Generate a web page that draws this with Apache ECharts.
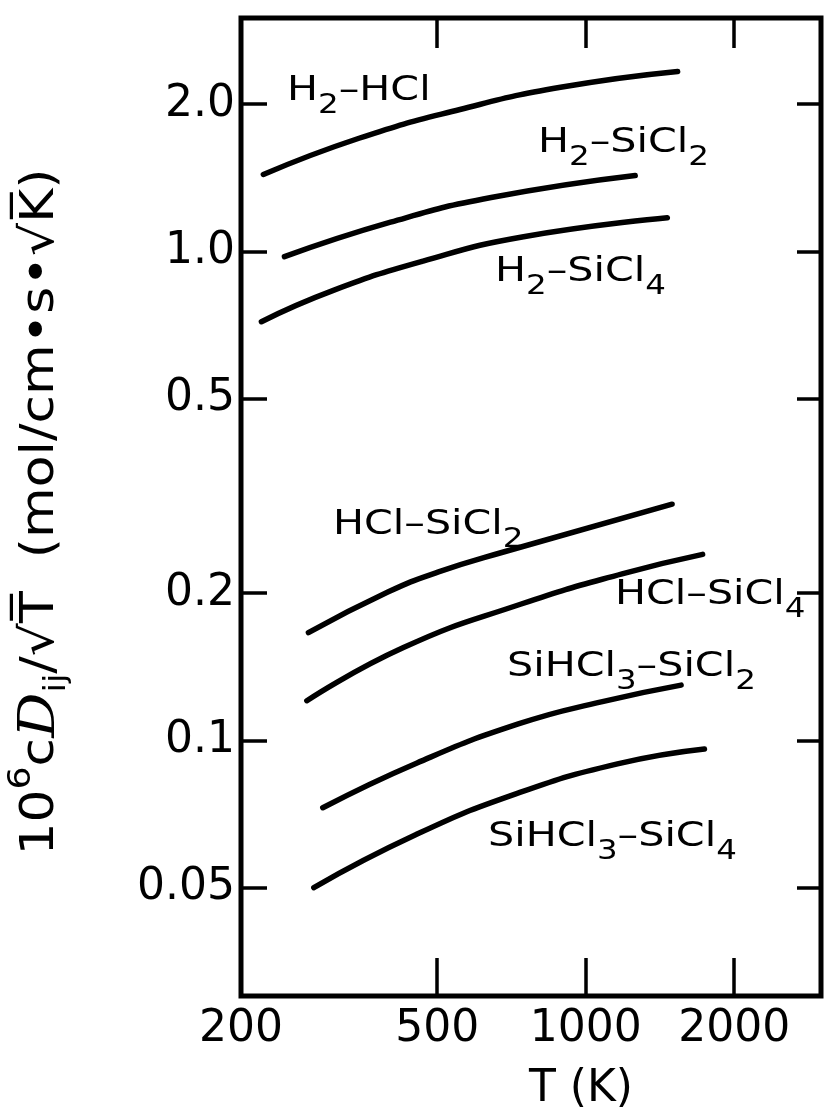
<!DOCTYPE html>
<html>
<head>
<meta charset="utf-8">
<title>Diffusion coefficients</title>
<script src="https://cdn.jsdelivr.net/npm/echarts@6/dist/echarts.min.js"></script>
<style>
    html, body { margin: 0; padding: 0; background: #fff; }
    #chart { width: 833px; height: 1120px; }
</style>
</head>
<body>
<div id="chart"></div>
<script>
// 读图得到的数据 (T in K, value = 10^6 c D_ij / sqrt(T))
const h2HclT = [222, 347, 556, 889, 1536];
const h2HclV = [1.436, 1.703, 1.95, 2.165, 2.333];

const h2SiCl2T = [245, 402, 643, 1260];
const h2SiCl2V = [0.975, 1.147, 1.288, 1.429];

const h2SiCl4T = [220, 306, 468, 748, 1464];
const h2SiCl4V = [0.718, 0.83, 0.955, 1.071, 1.171];

const hclSiCl2T = [274, 397, 503, 684, 1497];
const hclSiCl2V = [0.166, 0.201, 0.221, 0.243, 0.304];

const hclSiCl4T = [272, 427, 740, 1185, 1726];
const hclSiCl4V = [0.1205, 0.1548, 0.19, 0.219, 0.240];

const sihcl3SiCl2T = [293, 455, 730, 1081, 1561];
const sihcl3SiCl2V = [0.0728, 0.0899, 0.108, 0.120, 0.1297];

const sihcl3SiCl4T = [281, 452, 724, 1160, 1741];
const sihcl3SiCl4V = [0.0500, 0.0641, 0.0778, 0.0895, 0.096];

// 坐标轴刻度
const xTickValues = [200, 500, 1000, 2000];
const xTickLabels = ['200', '500', '1000', '2000'];
const yTickValues = [0.05, 0.1, 0.2, 0.5, 1.0, 2.0];
const yTickLabels = ['0.05', '0.1', '0.2', '0.5', '1.0', '2.0'];
const xRange = [200, 3000];
const yRange = [0.03, 3.0];

const FONT = '"DejaVu Sans", sans-serif';

document.addEventListener('DOMContentLoaded', function() {
    initChart();
});

function toLog(ts, vs) {
    return ts.map((t, i) => [Math.log10(t), Math.log10(vs[i])]);
}

function nearestLabel(v, values, labels) {
    let best = 0;
    for (let i = 0; i < values.length; i++) {
        if (Math.abs(Math.log10(values[i]) - v) < Math.abs(Math.log10(values[best]) - v)) best = i;
    }
    return labels[best];
}

function curve(name, ts, vs) {
    return {
        name: name,
        type: 'line',
        smooth: 0.5,
        showSymbol: false,
        silent: true,
        lineStyle: { color: '#000', width: 5.5, cap: 'round' },
        data: toLog(ts, vs)
    };
}

// 化学式标签 (下标用 rich text)
function formula(x, y, text) {
    return {
        type: 'text',
        x: x,
        y: y,
        scaleX: 1.25,
        style: {
            text: text,
            align: 'left',
            verticalAlign: 'top',
            fill: '#000',
            rich: {
                n: { fontFamily: FONT, fontSize: 33, lineHeight: 36, verticalAlign: 'top', fill: '#000' },
                s: { fontFamily: FONT, fontSize: 26, lineHeight: 28, padding: [18, 0, 0, 0], verticalAlign: 'top', fill: '#000' }
            }
        }
    };
}

function initChart() {
    const chartDom = document.getElementById('chart');
    const myChart = echarts.init(chartDom);

    const xTicksLog = xTickValues.map(v => Math.log10(v));
    const yTicksLog = yTickValues.map(v => Math.log10(v));
    const xInner = xTicksLog.slice(1);

    const xAxisBase = {
        type: 'value',
        min: Math.log10(xRange[0]),
        max: Math.log10(xRange[1]),
        splitLine: { show: false },
        axisLine: { show: false, onZero: false }
    };
    const yAxisBase = {
        type: 'value',
        min: Math.log10(yRange[0]),
        max: Math.log10(yRange[1]),
        splitLine: { show: false },
        axisLine: { show: false, onZero: false }
    };
    const tickStyle = { color: '#000', width: 3.5 };

    const option = {
        animation: false,
        backgroundColor: '#fff',
        grid: {
            left: 241,
            top: 18,
            width: 580,
            height: 978,
            show: true,
            borderColor: '#000',
            borderWidth: 5
        },
        xAxis: [
            Object.assign({}, xAxisBase, {
                position: 'bottom',
                name: 'T (K)',
                nameLocation: 'middle',
                nameGap: 72,
                nameTextStyle: { fontFamily: FONT, fontSize: 44, color: '#000', padding: [0, 0, 0, 100] },
                axisTick: { show: true, inside: true, length: 38, customValues: xInner, lineStyle: tickStyle },
                axisLabel: {
                    show: true,
                    customValues: xTicksLog,
                    margin: 12,
                    fontFamily: FONT,
                    fontSize: 44,
                    color: '#000',
                    formatter: v => nearestLabel(v, xTickValues, xTickLabels)
                }
            }),
            Object.assign({}, xAxisBase, {
                position: 'top',
                axisTick: { show: true, inside: true, length: 30, customValues: xInner, lineStyle: tickStyle },
                axisLabel: { show: false }
            })
        ],
        yAxis: [
            Object.assign({}, yAxisBase, {
                position: 'left',
                axisTick: { show: true, inside: true, length: 26, customValues: yTicksLog, lineStyle: tickStyle },
                axisLabel: {
                    show: true,
                    customValues: yTicksLog,
                    margin: 6,
                    fontFamily: FONT,
                    fontSize: 44,
                    color: '#000',
                    formatter: v => nearestLabel(v, yTickValues, yTickLabels)
                }
            }),
            Object.assign({}, yAxisBase, {
                position: 'right',
                axisTick: { show: true, inside: true, length: 24, customValues: yTicksLog, lineStyle: tickStyle },
                axisLabel: { show: false }
            })
        ],
        series: [
            curve('H2-HCl', h2HclT, h2HclV),
            curve('H2-SiCl2', h2SiCl2T, h2SiCl2V),
            curve('H2-SiCl4', h2SiCl4T, h2SiCl4V),
            curve('HCl-SiCl2', hclSiCl2T, hclSiCl2V),
            curve('HCl-SiCl4', hclSiCl4T, hclSiCl4V),
            curve('SiHCl3-SiCl2', sihcl3SiCl2T, sihcl3SiCl2V),
            curve('SiHCl3-SiCl4', sihcl3SiCl4T, sihcl3SiCl4V)
        ],
        graphic: [
            formula(287, 75, '{n|H}{s|2}{n|–HCl}'),
            formula(538, 127, '{n|H}{s|2}{n|–SiCl}{s|2}'),
            formula(495, 256, '{n|H}{s|2}{n|–SiCl}{s|4}'),
            formula(333, 509, '{n|HCl–SiCl}{s|2}'),
            formula(615, 579, '{n|HCl–SiCl}{s|4}'),
            formula(507, 651, '{n|SiHCl}{s|3}{n|–SiCl}{s|2}'),
            formula(488, 821, '{n|SiHCl}{s|3}{n|–SiCl}{s|4}'),
            // 纵轴标题 (竖排, 从下往上读)
            {
                type: 'text',
                x: 33,
                y: 512,
                rotation: Math.PI / 2,
                scaleX: 1.13,
                style: {
                    text: '{a|10}{p|6}{a|c}{d|D}{b|ij}{a|/√T\u0305  (mol/cm•s•√K\u0305)}',
                    align: 'center',
                    verticalAlign: 'middle',
                    fill: '#000',
                    rich: {
                        a: { fontFamily: FONT, fontSize: 46, lineHeight: 50, padding: [12, 0, 0, 0], verticalAlign: 'top', fill: '#000' },
                        p: { fontFamily: FONT, fontSize: 32, lineHeight: 34, verticalAlign: 'top', fill: '#000' },
                        d: { fontFamily: '"DejaVu Serif", serif', fontStyle: 'italic', fontSize: 50, lineHeight: 54, padding: [10, 0, 0, 0], verticalAlign: 'top', fill: '#000' },
                        b: { fontFamily: FONT, fontSize: 30, lineHeight: 32, padding: [36, 0, 0, 0], verticalAlign: 'top', fill: '#000' }
                    }
                }
            }
        ]
    };
    myChart.setOption(option);

    window.addEventListener('resize', function() {
        myChart.resize();
    });
}
</script>
</body>
</html>
